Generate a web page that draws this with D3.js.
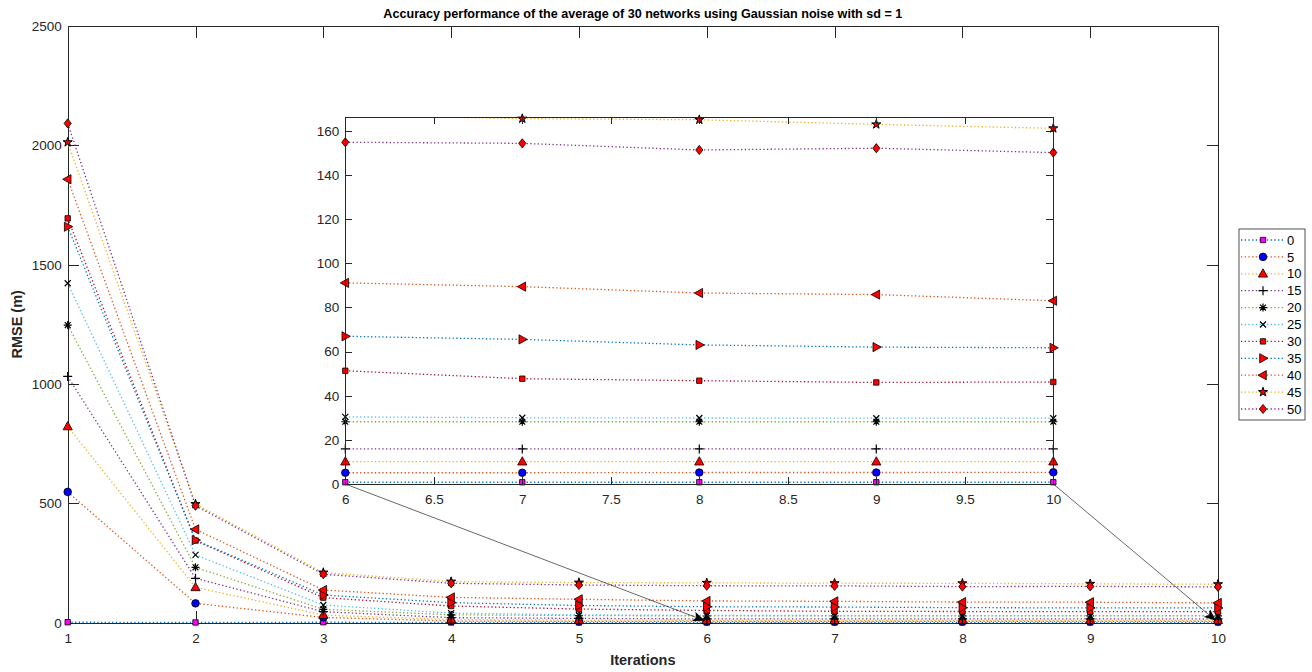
<!DOCTYPE html>
<html>
<head>
<meta charset="utf-8">
<style>
  body { margin: 0; background: #fff; font-family: "Liberation Sans", Arial, sans-serif; }
  .axis path, .axis line { fill: none; stroke: #262626; stroke-width: 1; shape-rendering: crispEdges; }
  .axis text { fill: #262626; font-size: 13.5px; font-family: "Liberation Sans", Arial, sans-serif; }
  .series path.line { fill: none; stroke-width: 1.3; stroke-dasharray: 1.3,2.4; }
</style>
</head>
<body>
<script src="https://d3js.org/d3.v7.min.js"></script>
<script>
// iterations 1..10
var iterations = [1, 2, 3, 4, 5, 6, 7, 8, 9, 10];
var seriesNames = ["0", "5", "10", "15", "20", "25", "30", "35", "40", "45", "50"];

// RMSE (m) per noise level
var rmse0  = [2, 1, 2, 1, 1, 0.8, 0.8, 0.8, 0.8, 0.8];
var rmse5  = [548, 81, 22, 7, 5.5, 5.1, 5.1, 5.2, 5.2, 5.3];
var rmse10 = [822, 148, 32, 13, 11, 10.1, 10.1, 10.1, 10.1, 10.1];
var rmse15 = [1032, 186, 46, 21, 18, 15.9, 15.9, 15.9, 15.9, 15.9];
var rmse20 = [1247, 232, 56, 33, 30, 28.2, 28.2, 28.2, 28.2, 28.2];
var rmse25 = [1422, 284, 74, 40, 33, 30.4, 30, 29.9, 29.8, 29.8];
var rmse30 = [1694, 344, 105, 70, 57, 51.3, 47.7, 46.8, 46, 46.2];
var rmse35 = [1659, 346, 116, 84, 72, 66.9, 65.5, 63, 62, 61.7];
var rmse40 = [1858, 391, 137, 106, 98, 91.1, 89.4, 86.5, 85.8, 83.0];
var rmse45 = [2013, 497, 210, 172, 168, 167, 165.5, 165, 162.9, 161.1];
var rmse50 = [2092, 490, 203, 165, 158, 154.8, 154.3, 151.3, 152.1, 150.1];

var allSeries = [rmse0, rmse5, rmse10, rmse15, rmse20, rmse25, rmse30, rmse35, rmse40, rmse45, rmse50];

var mainXTicks = [1, 2, 3, 4, 5, 6, 7, 8, 9, 10];
var mainYTicks = [0, 500, 1000, 1500, 2000, 2500];
var insetXTicks = [6, 6.5, 7, 7.5, 8, 8.5, 9, 9.5, 10];
var insetYTicks = [0, 20, 40, 60, 80, 100, 120, 140, 160];

var titleText = "Accuracy performance of the average of 30 networks using Gaussian noise with sd = 1";

// matlab default color order
var lineColors = ["#0072BD", "#D95319", "#EDB120", "#7E2F8E", "#77AC30", "#4DBEEE",
                  "#A2142F", "#0072BD", "#D95319", "#EDB120", "#7E2F8E"];
var markerTypes = ["square", "circle", "triUp", "plus", "asterisk", "x",
                   "square", "triRight", "triLeft", "star", "diamond"];
var markerFills = ["#ff00ff", "#0000ff", "#ff0000", "none", "none", "none",
                   "#ff0000", "#ff0000", "#ff0000", "#ff0000", "#ff0000"];

var W = 1312, H = 672;
var svg = d3.select("body").append("svg")
    .attr("width", W)
    .attr("height", H);

var mainBox = { left: 67.7, right: 1218, top: 26, bottom: 622.7 };
var insetBox = { left: 345.3, right: 1053.3, top: 117.3, bottom: 484 };

var x = d3.scaleLinear().domain([1, 10]).range([mainBox.left, mainBox.right]);
var y = d3.scaleLinear().domain([0, 2500]).range([mainBox.bottom, mainBox.top]);
var xi = d3.scaleLinear().domain([6, 10]).range([insetBox.left, insetBox.right]);
var yi = d3.scaleLinear().domain([0, 166.1]).range([insetBox.bottom, insetBox.top]);

function markerPath(type) {
  var p = d3.path();
  if (type === "square") { p.rect(-2.7, -2.7, 5.4, 5.4); }
  else if (type === "circle") { p.arc(0, 0, 3.8, 0, 2 * Math.PI); p.closePath(); }
  else if (type === "triUp") { p.moveTo(0, -5); p.lineTo(4.6, 3.3); p.lineTo(-4.6, 3.3); p.closePath(); }
  else if (type === "triRight") { p.moveTo(5, 0); p.lineTo(-3.3, 4.6); p.lineTo(-3.3, -4.6); p.closePath(); }
  else if (type === "triLeft") { p.moveTo(-5, 0); p.lineTo(3.3, 4.6); p.lineTo(3.3, -4.6); p.closePath(); }
  else if (type === "plus") { p.moveTo(-4.5, 0); p.lineTo(4.5, 0); p.moveTo(0, -4.5); p.lineTo(0, 4.5); }
  else if (type === "x") { p.moveTo(-3, -3); p.lineTo(3, 3); p.moveTo(-3, 3); p.lineTo(3, -3); }
  else if (type === "asterisk") {
    p.moveTo(-4, 0); p.lineTo(4, 0); p.moveTo(0, -4); p.lineTo(0, 4);
    p.moveTo(-2.9, -2.9); p.lineTo(2.9, 2.9); p.moveTo(-2.9, 2.9); p.lineTo(2.9, -2.9);
  }
  else if (type === "diamond") { p.moveTo(0, -4.6); p.lineTo(3.6, 0); p.lineTo(0, 4.6); p.lineTo(-3.6, 0); p.closePath(); }
  else if (type === "star") { return d3.symbol().type(d3.symbolStar).size(26)(); }
  return p.toString();
}

function drawMarkers(g, pts, i) {
  var t = markerTypes[i];
  var open = (t === "plus" || t === "asterisk" || t === "x");
  g.selectAll("path.mk").data(pts).enter().append("path")
    .attr("class", "mk")
    .attr("d", markerPath(t))
    .attr("transform", function(d) { return "translate(" + d[0] + "," + d[1] + ")"; })
    .style("fill", markerFills[i])
    .style("stroke", "#000")
    .style("stroke-width", open ? 1.2 : (t === "star" ? 1 : 0.8));
}

// ---------- main axes ----------
var xAxis = d3.axisBottom(x).tickValues(mainXTicks).tickSize(-11.5).tickSizeOuter(0).tickPadding(11).tickFormat(d3.format("d"));
var yAxis = d3.axisLeft(y).tickValues(mainYTicks).tickSize(-11.5).tickSizeOuter(0).tickPadding(6).tickFormat(d3.format("d"));

svg.append("g").attr("class", "axis")
  .attr("transform", "translate(0," + mainBox.bottom + ")").call(xAxis);
svg.append("g").attr("class", "axis")
  .attr("transform", "translate(0," + mainBox.top + ")")
  .call(d3.axisTop(x).tickValues(mainXTicks).tickSize(-11.5).tickSizeOuter(0).tickFormat(""));
svg.append("g").attr("class", "axis")
  .attr("transform", "translate(" + mainBox.left + ",0)").call(yAxis);
svg.append("g").attr("class", "axis")
  .attr("transform", "translate(" + mainBox.right + ",0)")
  .call(d3.axisRight(y).tickValues(mainYTicks).tickSize(-11.5).tickSizeOuter(0).tickFormat(""));

var mainLine = d3.line().x(function(d) { return x(d[0]); }).y(function(d) { return y(d[1]); });

allSeries.forEach(function(vals, i) {
  var data = iterations.map(function(it, k) { return [it, vals[k]]; });
  var g = svg.append("g").attr("class", "series");
  g.append("path").attr("class", "line").attr("d", mainLine(data)).style("stroke", lineColors[i]);
  drawMarkers(g, data.map(function(d) { return [x(d[0]), y(d[1])]; }), i);
});

// titles
svg.append("text")
  .attr("x", (mainBox.left + mainBox.right) / 2).attr("y", 18)
  .attr("text-anchor", "middle")
  .style("font-weight", "bold").style("font-size", "12.6px").style("fill", "#000")
  .text(titleText);
svg.append("text")
  .attr("x", (mainBox.left + mainBox.right) / 2).attr("y", 665)
  .attr("text-anchor", "middle")
  .style("font-weight", "bold").style("font-size", "14.5px").style("fill", "#262626")
  .text("Iterations");
svg.append("text")
  .attr("transform", "translate(22," + (mainBox.top + mainBox.bottom) / 2 + ") rotate(-90)")
  .attr("text-anchor", "middle")
  .style("font-weight", "bold").style("font-size", "14.5px").style("fill", "#262626")
  .text("RMSE (m)");

// ---------- inset ----------
var inset = svg.append("g").attr("class", "inset");
inset.append("rect")
  .attr("x", insetBox.left).attr("y", insetBox.top)
  .attr("width", insetBox.right - insetBox.left).attr("height", insetBox.bottom - insetBox.top)
  .style("fill", "#fff");

svg.append("clipPath").attr("id", "insetClip").append("rect")
  .attr("x", insetBox.left).attr("y", insetBox.top)
  .attr("width", insetBox.right - insetBox.left).attr("height", insetBox.bottom - insetBox.top);

var insetLine = d3.line().x(function(d) { return xi(d[0]); }).y(function(d) { return yi(d[1]); });

allSeries.forEach(function(vals, i) {
  var data = [];
  iterations.forEach(function(it, k) { if (it >= 6) data.push([it, vals[k]]); });
  var g = inset.append("g").attr("class", "series");
  g.append("path").attr("class", "line").attr("clip-path", "url(#insetClip)")
    .attr("d", insetLine(data)).style("stroke", lineColors[i]);
  var inside = data.filter(function(d) { return d[1] <= yi.domain()[1]; });
  drawMarkers(g, inside.map(function(d) { return [xi(d[0]), yi(d[1])]; }), i);
});

inset.append("g").attr("class", "axis")
  .attr("transform", "translate(0," + insetBox.bottom + ")")
  .call(d3.axisBottom(xi).tickValues(insetXTicks).tickSize(-7).tickSizeOuter(0).tickPadding(10).tickFormat(d3.format("")));
inset.append("g").attr("class", "axis")
  .attr("transform", "translate(0," + insetBox.top + ")")
  .call(d3.axisTop(xi).tickValues(insetXTicks).tickSize(-7).tickSizeOuter(0).tickFormat(""));
inset.append("g").attr("class", "axis")
  .attr("transform", "translate(" + insetBox.left + ",0)")
  .call(d3.axisLeft(yi).tickValues(insetYTicks).tickSize(-7).tickSizeOuter(0).tickPadding(6).tickFormat(d3.format("d")));
inset.append("g").attr("class", "axis")
  .attr("transform", "translate(" + insetBox.right + ",0)")
  .call(d3.axisRight(yi).tickValues(insetYTicks).tickSize(-7).tickSizeOuter(0).tickFormat(""));

// ---------- arrows from inset corners to the zoomed points ----------
svg.append("defs").append("marker")
  .attr("id", "arrowHead")
  .attr("viewBox", "0 0 12 10")
  .attr("refX", 12).attr("refY", 5)
  .attr("markerWidth", 12).attr("markerHeight", 10)
  .attr("markerUnits", "userSpaceOnUse")
  .attr("orient", "auto")
  .append("path").attr("d", "M0,0 L12,5 L0,10 L3,5 Z").style("fill", "#000");

[[6, 0], [10, 0]].forEach(function(pt) {
  svg.append("line")
    .attr("x1", xi(pt[0])).attr("y1", yi(pt[1]))
    .attr("x2", x(pt[0]) - 2).attr("y2", y(pt[1]) - 2)
    .style("stroke", "#000").style("stroke-width", 0.6)
    .attr("marker-end", "url(#arrowHead)");
});

// ---------- legend ----------
var legBox = { left: 1239, top: 229, width: 66, height: 191 };
var legend = svg.append("g").attr("class", "legend");
legend.append("rect")
  .attr("x", legBox.left).attr("y", legBox.top)
  .attr("width", legBox.width).attr("height", legBox.height)
  .style("fill", "#fff").style("stroke", "#262626").style("stroke-width", 0.8);

var rowY = d3.scalePoint().domain(seriesNames).range([240, 409]);
seriesNames.forEach(function(name, i) {
  var gy = rowY(name);
  var g = legend.append("g").attr("class", "series");
  g.append("path").attr("class", "line")
    .attr("d", "M1241," + gy + "L1284," + gy)
    .style("stroke", lineColors[i]);
  drawMarkers(g, [[1263, gy]], i);
  g.append("text").attr("x", 1287).attr("y", gy + 4.6)
    .style("font-size", "13px").style("fill", "#000")
    .text(name);
});
</script>
</body>
</html>
